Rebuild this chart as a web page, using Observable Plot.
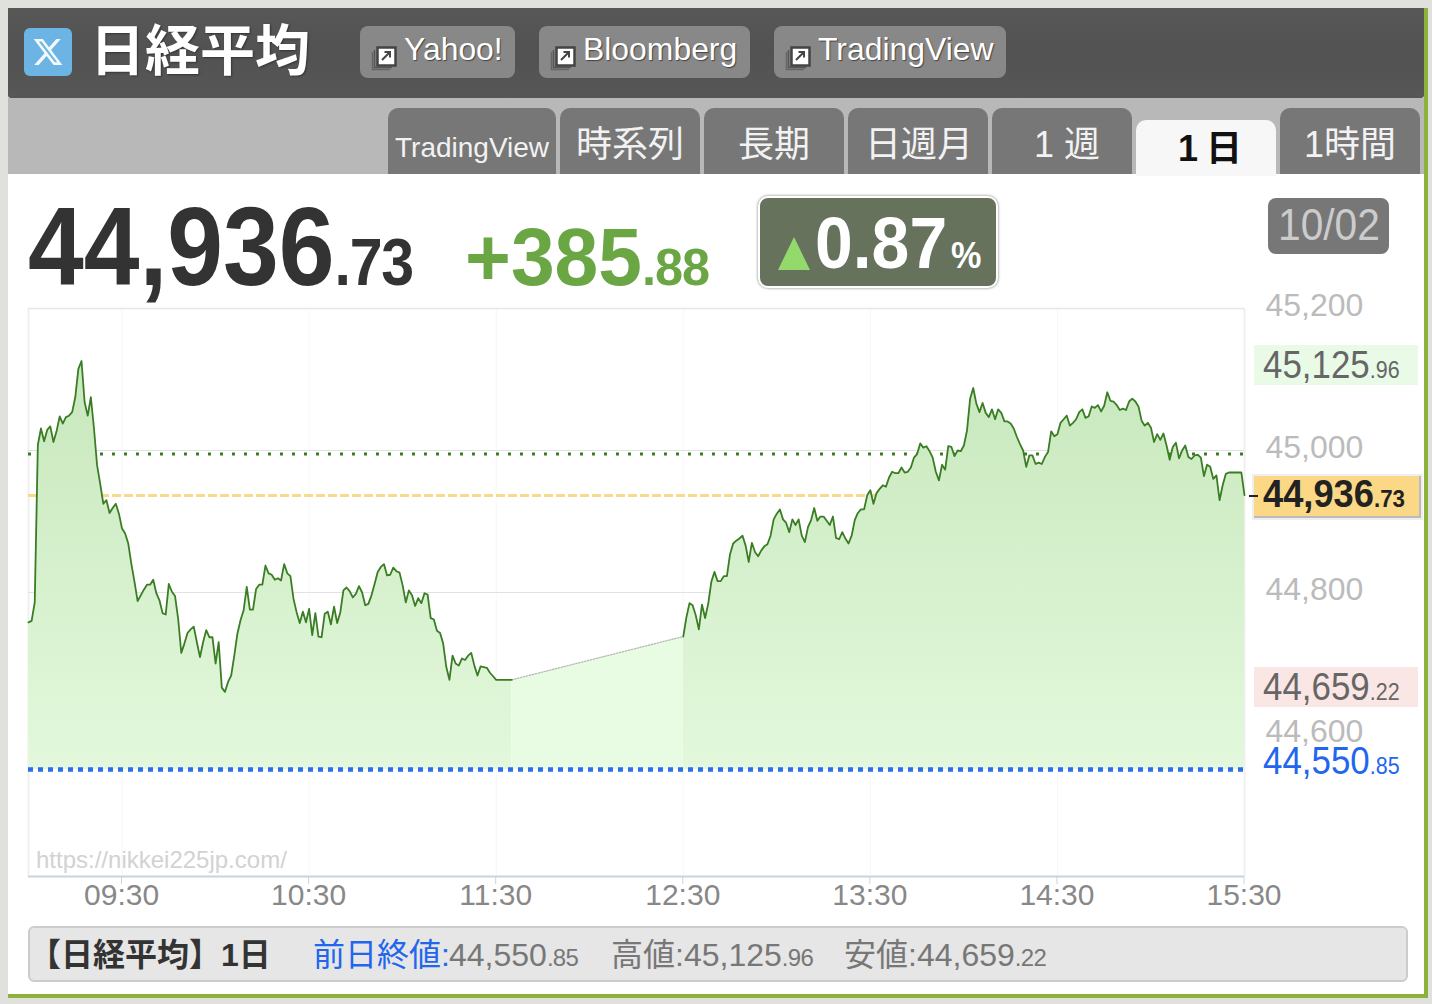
<!DOCTYPE html>
<html lang="ja">
<head>
<meta charset="utf-8">
<title>日経平均 1日</title>
<script src="https://cdn.jsdelivr.net/npm/d3@7"></script>
<script src="https://cdn.jsdelivr.net/npm/@observablehq/plot@0.6"></script>
<style>
html,body{margin:0;padding:0;width:1432px;height:1004px;overflow:hidden;background:#e0e0dc;font-family:"Liberation Sans","Noto Sans CJK JP",sans-serif}
.a{position:absolute;box-sizing:border-box}
.t{position:absolute;white-space:nowrap;line-height:1.2;transform-origin:left center}
</style>
</head>
<body>
<div id="page"></div>
<script>
// ---- data ----
const morningPrices = [
44758,44760,44786,45008,45031,45013,45029,45034,45012,45027,
45048,45038,45047,45049,45054,45075,45115,45126,45068,45049,
45075,45031,44979,44953,44925,44930,44912,44919,44925,44911,
44890,44883,44869,44840,44815,44788,44796,44804,44811,44811,
44818,44799,44789,44771,44769,44812,44801,44795,44763,44715,
44728,44743,44748,44752,44730,44709,44730,44747,44737,44737,
44700,44730,44666,44660,44674,44683,44711,44742,44761,44775,
44808,44776,44776,44805,44811,44811,44838,44827,44825,44818,
44820,44817,
44840,44827,44823,44791,44772,44757,44773,44758,44777,44740,
44771,44738,44737,44770,44773,44755,44780,44757,44772,44803,
44807,44802,44793,44798,44809,44800,44782,44784,44796,44812,
44829,44836,44840,44824,44825,44835,44830,44828,44810,44786,
44803,44796,44781,44792,44785,44799,44797,44764,44762,44746,
44743,44728,44695,44677,44711,44700,44697,44707,44705,44711,
44715,44697,44683,44696,44695,44694,44687,44682,
44677,44677,44677,44677,44677,44677];
const afternoonPrices = [
44738,44765,44785,44782,44768,44748,44783,44764,44784,44815,
44829,44816,44816,44823,44823,44854,44869,44873,44876,44880,
44866,44843,44870,44857,44851,44859,44865,44868,44880,44903,
44911,44917,44903,44898,44885,44903,44895,44903,44880,44871,
44892,44902,44919,44901,44907,44907,44901,44895,44907,44877,
44875,44885,44876,44869,44880,44902,44912,44917,44917,44937,44944,
44925,44940,44946,44951,44949,44962,44970,44968,44968,44976,
44969,44970,44976,44990,44995,45010,45004,45006,44999,44990,
44970,44958,44980,44973,45006,45005,44992,45000,44999,45007,
45028,45073,45088,45066,45054,45067,45053,45047,45058,45044,
45058,45053,45041,45041,45038,45031,45019,45009,45000,44977,
44993,44993,44981,44983,44981,44991,44998,45027,45020,45023,45039,
45044,45049,45035,45039,45044,45054,45058,45046,45048,45062,
45060,45064,45055,45063,45082,45070,45069,45064,45057,45059,
45057,45069,45073,45069,45062,45042,45035,45039,45032,45012,
45023,45015,45024,45007,44987,45005,45011,44989,45000,45007,
44991,44988,44993,44994,44990,44964,44980,44977,44960,44965,
44930,44951,44967,44969,44969,44969,44969,44969,44937];
const previousClose = 44550.85;
const dayHigh = 45125.96;
const dayLow = 44659.22;
const lastPrice = 44936.73;
const greenDotted = 44995;
const priceTicks = [45200,45000,44800,44600];
const gridPrices = [45000,44800];
const hourLabels = ["09:30","10:30","11:30","12:30","13:30","14:30","15:30"];
const tabNames = ["TradingView","時系列","長期","日週月","1 週","1日","1時間"];
const linkNames = ["Yahoo!","Bloomberg","TradingView"];

// ---- helpers ----
const at = (hhmm, plus = 0) => {
  const [h, m] = hhmm.split(":").map(Number);
  return new Date(Date.UTC(2025, 9, 2, h, m + plus));
};
const morning = morningPrices.map((price, i) => ({time: at("09:00", i), price}));
const afternoon = afternoonPrices.map((price, i) => ({time: at("12:30", i), price}));
const lunch = [morning[morning.length - 1], afternoon[0]];
const hourTicks = hourLabels.map(s => at(s));

const page = document.getElementById("page");
function box(x, y, w, h, css = "") {
  const d = document.createElement("div");
  d.className = "a";
  d.style.cssText = `left:${x}px;top:${y}px;width:${w}px;height:${h}px;${css}`;
  page.appendChild(d);
  return d;
}
// text with an exact baseline; parts = [text, size, css]; sx narrows the glyphs
function put(x, base, parts, sx = 1) {
  const d = document.createElement("div");
  d.className = "t";
  d.style.cssText = `left:${x}px;top:0;`;
  for (const [text, size, css = ""] of parts) {
    const s = document.createElement("span");
    s.textContent = text;
    s.style.cssText = `font-size:${size}px;${css}`;
    d.appendChild(s);
  }
  const strut = document.createElement("span");
  strut.style.cssText = "display:inline-block;width:0;height:0";
  d.appendChild(strut);
  page.appendChild(d);
  d.style.top = (base - strut.getBoundingClientRect().bottom) + "px";
  if (sx !== 1) d.style.transform = `scaleX(${sx})`;
  return d;
}

// ---- page furniture ----
box(8, 98, 1416, 76, "background:#b8b8b8");
box(8, 174, 1416, 820, "background:#fff");
box(8, 8, 1416, 90, "background:linear-gradient(#575757,#525252 50%,#575757);border-radius:0 0 3px 3px");
box(1424, 8, 4, 990, "background:#8cb23c");
box(8, 994, 1420, 4, "background:#8cb23c");

// X icon
const xIcon = box(24, 28, 48, 48, "background:#6cb4e4;border-radius:6px");
xIcon.innerHTML = `<svg width="48" height="48" viewBox="-6 -6 36 36"><path fill="#fff" fill-opacity=".92" d="M18.244 2.25h3.308l-7.227 8.26 8.502 11.24H16.17l-5.214-6.817L4.99 21.75H1.68l7.73-8.835L1.254 2.25H8.08l4.713 6.231zm-1.161 17.52h1.833L7.084 4.126H5.117z"/></svg>`;
put(90, 70, [["日経平均", 55, "font-weight:700;color:#fff;text-shadow:1px 1px 2px #333"]]);

// link buttons
[[360,155,404],[539,211,583],[774,232,818]].forEach(([x,w,tx], i) => {
  box(x, 26, w, 52, "background:#888;border-radius:8px");
  const ic = box(x + 11, 44, 26, 28, "");
  ic.innerHTML = `<svg width="26" height="28"><path d="M1.5 8V25.5H19" fill="none" stroke="#666" stroke-width="1.5"/><path d="M3.5 6V23.5H21" fill="none" stroke="#555" stroke-width="1.5"/><rect x="6.5" y="3.5" width="18" height="18" fill="#fff" stroke="#444" stroke-width="2.5"/><path d="M11 16L19 8M13.5 8H19V13.5" fill="none" stroke="#444" stroke-width="2"/></svg>`;
  put(tx, 60, [[linkNames[i], 31.9, "color:#fff;text-shadow:1px 1px 1px #444"]]);
});

// tabs
const tabX = [388,560,704,848,992,1136,1280];
const tabW = [168,140,140,140,140,140,140];
const tabTextX = [395,576,738,865,1034,1178,1304];
tabNames.forEach((name, i) => {
  const active = name === "1日";
  box(tabX[i], active ? 120 : 108, tabW[i], active ? 56 : 66,
    `background:${active ? "#f7f7f7" : "#777"};border-radius:10px 10px 0 0`);
  const size = i === 0 ? 28 : 36;
  put(tabTextX[i], active ? 161 : 157, [[name, size,
    active ? "color:#111;font-weight:700;letter-spacing:8px" : "color:#f2f2f2"]]);
});

// headline figures
put(28, 285, [["44,936", 112, "font-weight:700;color:#333"],
              [".73", 66, "font-weight:700;color:#333;letter-spacing:-1.5px"]], .895);
put(465, 285, [["+385", 81, "font-weight:700;color:#6aa644"],
               [".88", 52, "font-weight:700;color:#6aa644;letter-spacing:-1px"]], .97);
box(758, 196, 240, 92, "background:#66725c;border:2px solid #fff;border-radius:10px;box-shadow:0 0 3px #777");
box(778, 237, 32, 33, "background:#94d96c;clip-path:polygon(50% 0,100% 100%,0 100%)");
put(815, 268, [["0.87", 73, "font-weight:700;color:#fff"]], .93);
put(951, 268, [["%", 36, "font-weight:700;color:#fff"]], .95);
box(1268, 198, 121, 56, "background:#777;border-radius:8px");
put(1278, 240, [["10/02", 44, "color:#ccc"]], .925);

// ---- chart ----
const defs = () => {
  const g = d3.create("svg:defs");
  const lg = g.append("linearGradient").attr("id", "dayFill")
    .attr("gradientUnits", "userSpaceOnUse")
    .attr("x1", 0).attr("x2", 0).attr("y1", 361).attr("y2", 769);
  lg.append("stop").attr("offset", "0%").attr("stop-color", "#c8e8bd");
  lg.append("stop").attr("offset", "100%").attr("stop-color", "#e3f8dc");
  return g.node();
};
const areaOpts = {x: "time", y1: () => previousClose, y2: "price"};
const chart = Plot.plot({
  width: 1432,
  height: 1004,
  marginLeft: 28,
  marginRight: 188,
  marginTop: 308,
  marginBottom: 128,
  x: {type: "utc", domain: [at("09:00"), at("15:30")]},
  y: {domain: [44400, 45200]},
  style: {background: "transparent", fontFamily: '"Liberation Sans",sans-serif', overflow: "visible"},
  marks: [
    defs,
    Plot.ruleX(hourTicks, {stroke: "#f7f7f7", strokeWidth: 1}),
    Plot.ruleX([at("09:00")], {stroke: "#f0f0f0", strokeWidth: 2}),
    Plot.ruleX([at("15:30")], {stroke: "#f0f0f0", strokeWidth: 2}),
    Plot.ruleY([45200], {stroke: "#e6e6e6", strokeWidth: 1.5}),
    Plot.ruleY(gridPrices, {stroke: "#e2e2e2", strokeWidth: 1}),
    Plot.ruleY([greenDotted], {stroke: "#3a7d24", strokeWidth: 3, strokeDasharray: "3,9"}),
    Plot.ruleY([lastPrice], {stroke: "#fbd98a", strokeWidth: 3, strokeDasharray: "9,3"}),
    Plot.areaY(morning, {...areaOpts, fill: "url(#dayFill)"}),
    Plot.areaY(lunch, {...areaOpts, fill: "#e8fce4"}),
    Plot.areaY(afternoon, {...areaOpts, fill: "url(#dayFill)"}),
    Plot.lineY(lunch, {x: "time", y: "price", stroke: "#b5b5b5", strokeWidth: 1.2, strokeDasharray: "1.5,1.5"}),
    Plot.lineY(morning, {x: "time", y: "price", stroke: "#3a7d24", strokeWidth: 1.8, strokeLinejoin: "round"}),
    Plot.lineY(afternoon, {x: "time", y: "price", stroke: "#3a7d24", strokeWidth: 1.8, strokeLinejoin: "round"}),
    Plot.ruleY([previousClose], {stroke: "#2a6ef0", strokeWidth: 4.5, strokeDasharray: "5,5"}),
    Plot.ruleY([44400], {stroke: "#c6d4e2", strokeWidth: 2}),
    Plot.axisX({
      ticks: hourTicks,
      tickFormat: d3.utcFormat("%H:%M"),
      tickSize: 8,
      tickPadding: -1,
      dx: -0.5,
      stroke: "#c6d4e2",
      fill: "#888",
      fontSize: 30,
      label: null
    }),
    Plot.axisY({
      anchor: "right",
      ticks: priceTicks,
      tickFormat: d3.format(","),
      tickSize: 0,
      tickPadding: 21,
      textAnchor: "start",
      fill: "#bbb",
      fontSize: 32,
      dy: -3,
      label: null
    })
  ]
});
chart.style.position = "absolute";
chart.style.left = "0";
chart.style.top = "0";
page.appendChild(chart);

// watermark
put(36, 868, [["https://nikkei225jp.com/", 24, "color:#d2d2d2"]]);

// side value labels
const fmt = v => {
  const [i, d] = v.toFixed(2).split(".");
  return [d3.format(",")(+i), "." + d];
};
function sideLabel(v, base, bg, rect, color, weight = 400, sx = .895) {
  if (bg) box(rect[0], rect[1], rect[2], rect[3], bg);
  const [a, b] = fmt(v);
  put(1263, base, [[a, 39, `color:${color};font-weight:${weight}`],
                   [b, 24, `color:${color};font-weight:${weight}`]], sx);
}
sideLabel(dayHigh, 378, "background:#e9fbe6", [1254,345,164,40], "#666");
sideLabel(dayLow, 700, "background:#fbe6e6", [1254,667,164,40], "#666");
sideLabel(previousClose, 774, null, null, "#2266ee");
sideLabel(lastPrice, 507, "background:#fbd885;border-right:2px solid #bbb;border-bottom:2px solid #bbb;box-shadow:0 0 0 2px #eee",
  [1254,476,167,42], "#222", 700, .93);
box(1249, 495, 9, 2, "background:#222");

// footer
box(28, 926, 1380, 56, "background:#e6e6e6;border:2px solid #ccc;border-radius:6px");
const grey = "color:#777";
const greySmall = "color:#777;letter-spacing:-.7px";
put(29, 966, [["【日経平均】1日", 32, "font-weight:700;color:#333"]]);
put(313, 966, [["前日終値:", 32, "color:#2266ee"]]);
const footerValue = (x, name, v, nameCss) => {
  const [a, b] = fmt(v);
  put(x, 966, [[name, 32, nameCss], [a, 32, grey], [b, 24, greySmall]]);
};
footerValue(449, "", previousClose, grey);
footerValue(611, "高値:", dayHigh, grey);
footerValue(844, "安値:", dayLow, grey);
</script>
</body>
</html>
